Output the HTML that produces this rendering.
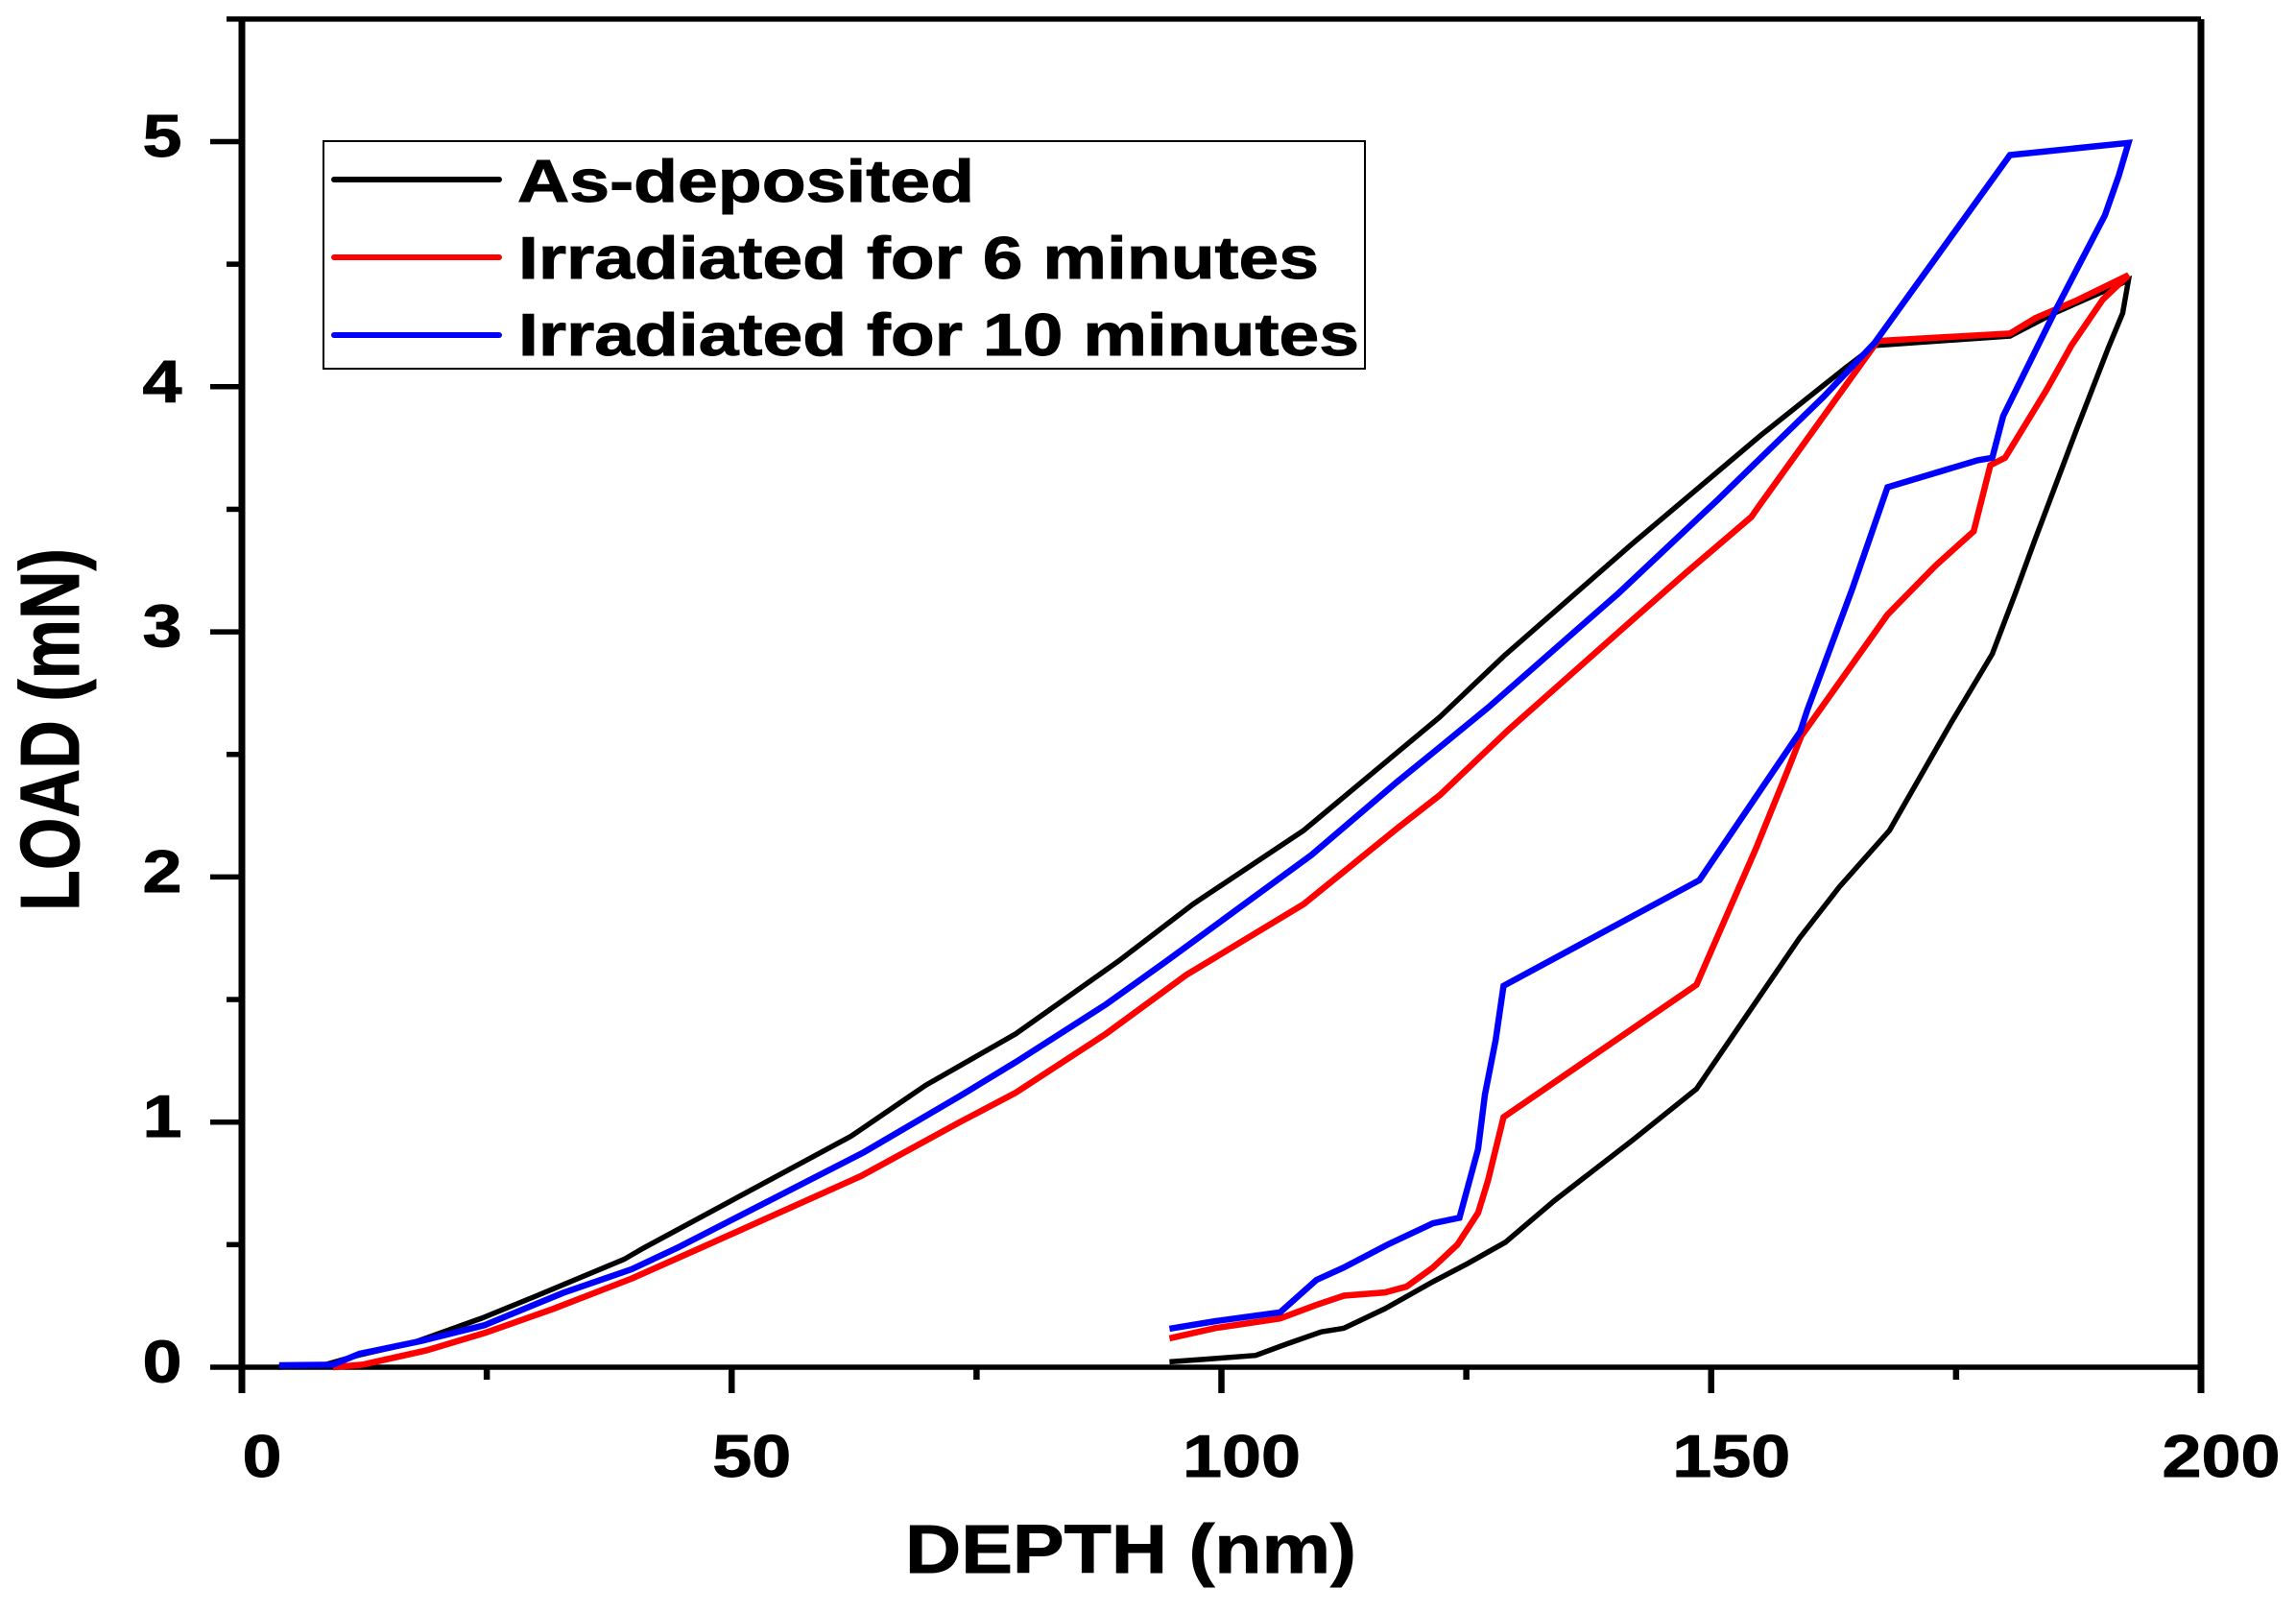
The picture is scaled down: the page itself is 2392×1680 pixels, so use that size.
<!DOCTYPE html>
<html lang="en">
<head>
<meta charset="utf-8">
<title>Load vs depth chart</title>
<style>
html,body{margin:0;padding:0;background:#fff;width:2392px;height:1680px;overflow:hidden}
svg{display:block}
text{font-family:"Liberation Sans",sans-serif;font-weight:bold;fill:#000;stroke:#000;stroke-width:0.9px}
</style>
</head>
<body>
<svg id="chart" xmlns="http://www.w3.org/2000/svg" width="2392" height="1680" viewBox="0 0 2392 1680">
  <rect x="0" y="0" width="2392" height="1680" fill="#fff"/>
  <g id="axes"></g>
  <g id="series"></g>
  <g>
    <rect x="337" y="147" width="1085" height="237" fill="#fff" stroke="#000" stroke-width="2"/>
    <line x1="348" y1="187" x2="520" y2="187" stroke="#000" stroke-width="6" stroke-linecap="round"/>
    <line x1="348" y1="268" x2="520" y2="268" stroke="#ff0000" stroke-width="6" stroke-linecap="round"/>
    <line x1="348" y1="349" x2="520" y2="349" stroke="#0000ff" stroke-width="6" stroke-linecap="round"/>
    <text x="539" y="210" font-size="62" textLength="476" lengthAdjust="spacingAndGlyphs">As-deposited</text>
    <text x="540" y="290" font-size="62" textLength="834" lengthAdjust="spacingAndGlyphs">Irradiated for 6 minutes</text>
    <text x="540" y="370" font-size="62" textLength="876" lengthAdjust="spacingAndGlyphs">Irradiated for 10 minutes</text>
  </g>
  <text x="943" y="1638" font-size="71" textLength="470" lengthAdjust="spacingAndGlyphs">DEPTH (nm)</text>
  <text transform="translate(82,949) rotate(-90)" x="0" y="0" font-size="87" textLength="378" lengthAdjust="spacingAndGlyphs">LOAD (mN)</text>
</svg>
<script>
var xMajorTicks = [0, 50, 100, 150, 200];
var xMinorTicks = [25, 75, 125, 175];
var yMajorTicks = [0, 1, 2, 3, 4, 5];
var yMinorTicks = [0.5, 1.5, 2.5, 3.5, 4.5, 5.5];

var blackDepth = [3.7,8.5,12,17.5,24.5,30,39,41,62.2,69.8,79,89.6,97.1,108.4,122.3,128.8,141.9,155,163.8,166.7,180.5,185,191.8,192.6,192,190.5,187.2,183,181.1,178.7,174.5,168.2,163.1,159,148.5,141.9,134,129,125,121.6,116.7,112.5,110.2,106.6,103.5,99.1,94.7];
var blackLoad = [0,0.01,0.05,0.1,0.2,0.29,0.44,0.486,0.943,1.15,1.36,1.66,1.889,2.19,2.653,2.9,3.358,3.8,4.08,4.168,4.207,4.3,4.42,4.435,4.3,4.155,3.815,3.37,3.162,2.91,2.63,2.19,1.96,1.75,1.135,0.924,0.68,0.51,0.42,0.349,0.239,0.159,0.144,0.094,0.048,0.035,0.022];

var redDepth = [9.3,12.3,18.8,24.8,31.8,39.8,46.8,63.2,73.3,79,88.2,96.4,108.4,118,122.3,129.3,142,147.4,154.1,155,167,180.5,183.1,187.2,192.6,190,186.8,184.2,180,178.5,176.8,172.9,168,159.2,157.9,154.6,148.5,128.8,127.2,126.2,124.1,121.6,118.9,116.7,112.5,109.6,106,99.4,94.7];
var redLoad = [0,0.01,0.068,0.14,0.238,0.362,0.486,0.78,1,1.12,1.36,1.6,1.889,2.2,2.334,2.6,3.05,3.24,3.469,3.52,4.187,4.217,4.28,4.35,4.455,4.357,4.17,3.985,3.71,3.68,3.41,3.27,3.07,2.575,2.444,2.119,1.56,1.02,0.76,0.63,0.5,0.407,0.329,0.305,0.292,0.253,0.199,0.16,0.118];

var blueDepth = [3.8,9.3,12,18.3,24.8,32.8,39.8,44.6,63.5,73.3,79,88.2,94.5,109.2,118,122.3,127.2,134.7,140.6,150.7,161.5,166.7,180.5,192.6,191.6,190.2,185,179.8,178.7,177.2,168,164.4,159.8,159.1,148.8,128.8,128,126.9,126.2,124.3,121.6,116.9,112.5,109.7,106,99.4,94.7];
var blueLoad = [0.008,0.01,0.055,0.107,0.172,0.303,0.4,0.49,0.877,1.106,1.245,1.48,1.66,2.09,2.39,2.53,2.69,2.953,3.16,3.54,3.96,4.18,4.945,4.995,4.86,4.7,4.3,3.88,3.71,3.7,3.59,3.175,2.68,2.594,1.987,1.556,1.335,1.112,0.89,0.61,0.587,0.499,0.407,0.356,0.224,0.188,0.157];

var NS = 'http://www.w3.org/2000/svg';
var axes = document.getElementById('axes');
var seriesGroup = document.getElementById('series');

function xPos(v) { return 252 + v * (2293 - 252) / 200; }
function yPos(v) { return 1424 - v * 255.3; }

function addLine(parent, x1, y1, x2, y2, w, name) {
  var el = document.createElementNS(NS, 'line');
  el.setAttribute('x1', x1);
  el.setAttribute('y1', y1);
  el.setAttribute('x2', x2);
  el.setAttribute('y2', y2);
  el.setAttribute('stroke', '#000');
  el.setAttribute('stroke-width', w);
  
  
  parent.appendChild(el);
}

function addLabel(parent, str, x, y, name) {
  var len = String(str).length * 41;
  var el = document.createElementNS(NS, 'text');
  el.setAttribute('x', x - len / 2);
  el.setAttribute('y', y);
  el.setAttribute('font-size', '62');
  el.setAttribute('textLength', len);
  el.setAttribute('lengthAdjust', 'spacingAndGlyphs');
  
  
  el.textContent = str;
  parent.appendChild(el);
}

function addSeries(xs, ys, color, width, name) {
  var pts = [];
  for (var i = 0; i < xs.length; i++) {
    pts.push(xPos(xs[i]).toFixed(1) + ',' + yPos(ys[i]).toFixed(1));
  }
  var el = document.createElementNS(NS, 'polyline');
  el.setAttribute('points', pts.join(' '));
  el.setAttribute('fill', 'none');
  el.setAttribute('stroke', color);
  el.setAttribute('stroke-width', width);
  el.setAttribute('stroke-linejoin', 'miter');
  
  
  seriesGroup.appendChild(el);
}

addLine(axes, 252, 20, 252, 1451, 7, 'y-axis-line');
addLine(axes, 2293, 20, 2293, 1451, 7, 'right-axis-line');
addLine(axes, 248, yPos(0), 2293, yPos(0), 5.5, 'x-axis-line');
addLine(axes, 252, yPos(5.5), 2293, yPos(5.5), 5.5, 'top-axis-line');

xMajorTicks.forEach(function (v) {
  addLine(axes, xPos(v), yPos(0), xPos(v), 1451, 6.5, 'x-major-tick');
  addLabel(axes, v, xPos(v) + 21, 1538, 'x-tick-label');
});
xMinorTicks.forEach(function (v) {
  addLine(axes, xPos(v), yPos(0), xPos(v), 1437, 6.5, 'x-minor-tick');
});
yMajorTicks.forEach(function (v) {
  addLine(axes, 219, yPos(v), 252, yPos(v), 5.5, 'y-major-tick');
  addLabel(axes, v, 169, yPos(v) + 15.5, 'y-tick-label');
});
yMinorTicks.forEach(function (v) {
  addLine(axes, 236, yPos(v), 252, yPos(v), 5.5, 'y-minor-tick');
});

addSeries(blackDepth, blackLoad, '#000000', 5.5, 'series-as-deposited');
addSeries(redDepth, redLoad, '#ff0000', 6.5, 'series-irradiated-6-minutes');
addSeries(blueDepth, blueLoad, '#0000ff', 6.5, 'series-irradiated-10-minutes');
</script>
</body>
</html>
